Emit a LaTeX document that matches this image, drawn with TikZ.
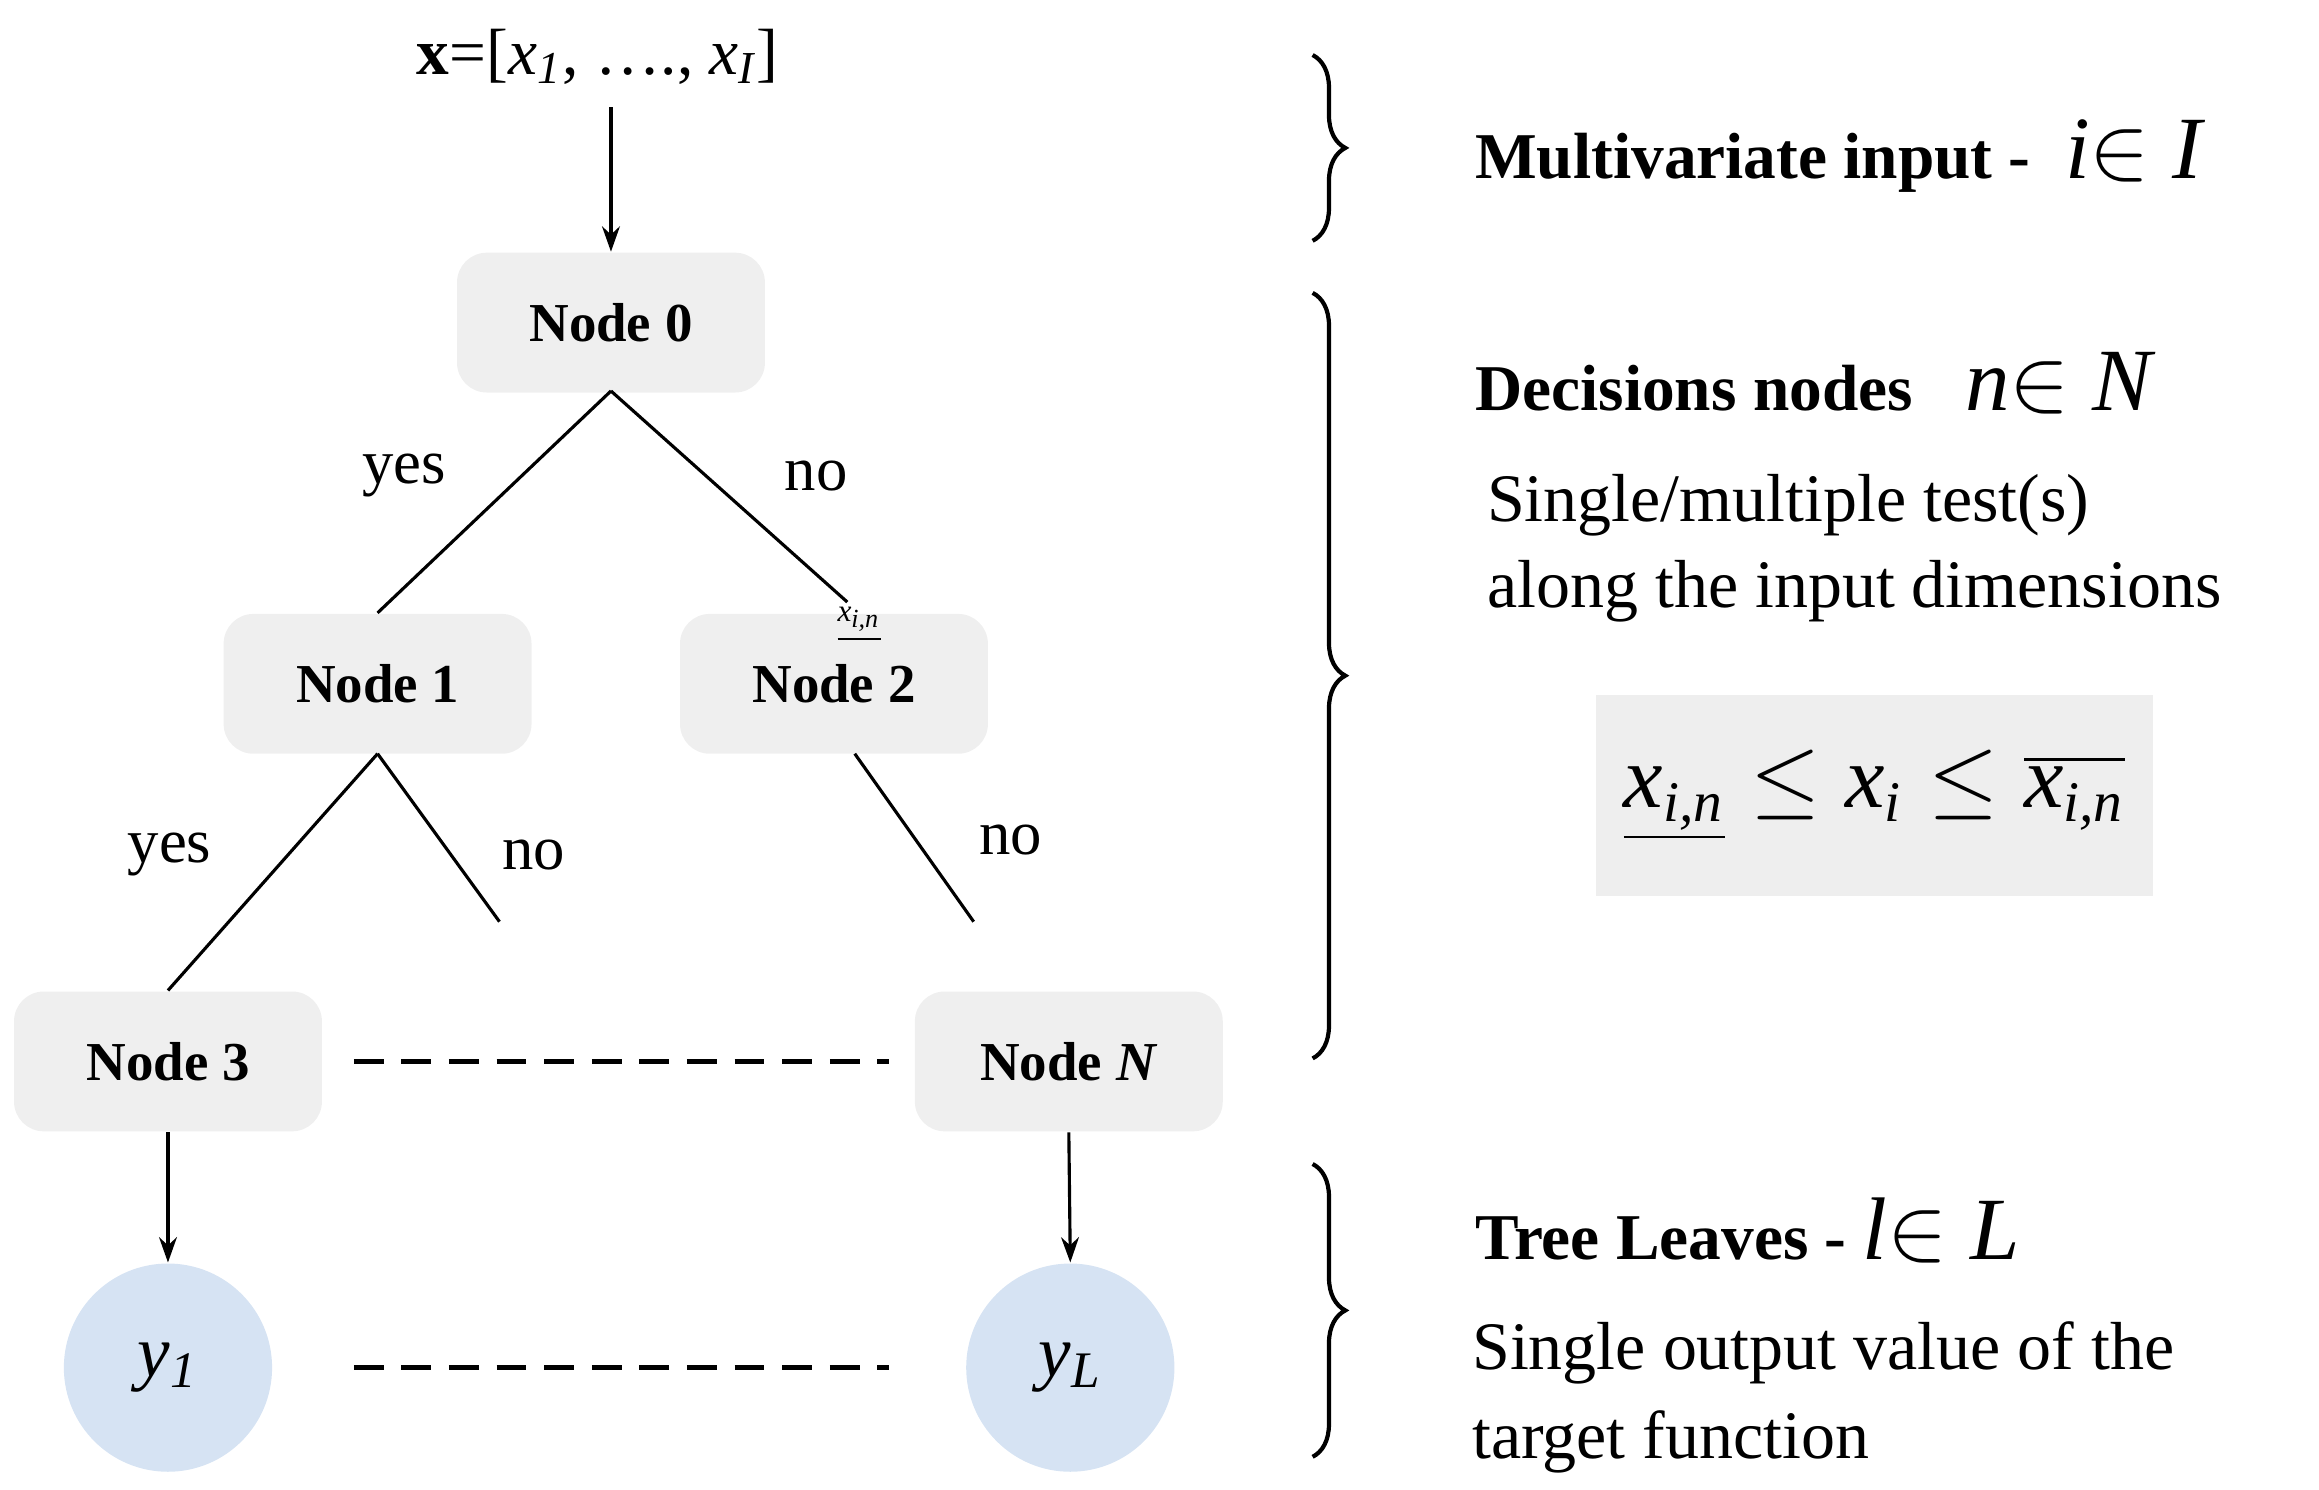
\documentclass[tikz,border=0pt]{standalone}
\usepackage{fontspec}
\setmainfont{Liberation Serif}
\usetikzlibrary{decorations.pathreplacing,arrows.meta,calc}
\definecolor{ngray}{HTML}{EFEFEF}
\definecolor{lblue}{HTML}{D6E3F3}
\definecolor{bgray}{HTML}{EEEEEE}
\newcommand{\xit}[1]{\textit{#1}}
\begin{document}
\begin{tikzpicture}[x=0.01cm,y=-0.01cm,
  tn/.style={fill=ngray,rounded corners=0.2cm,minimum width=2.07cm,minimum height=0.94cm,font=\fontsize{10.5}{12}\selectfont\bfseries},
  leaf/.style={circle,fill=lblue,minimum size=1.4cm,font=\fontsize{14}{16}\selectfont},
  lab/.style={font=\fontsize{12}{14}\selectfont},
  body/.style={font=\fontsize{13}{15}\selectfont,anchor=west},
  head/.style={font=\fontsize{12.5}{15}\selectfont\bfseries,anchor=west},
  arr/.style={-{Stealth[length=0.17cm,width=0.12cm]},line width=0.6pt},
  ln/.style={line width=0.6pt},
  dsh/.style={line width=1pt,dash pattern=on 0.2cm off 0.12cm},
  br/.style={decorate,decoration={brace,amplitude=0.22cm},line width=0.8pt}]
\useasboundingbox (0,0) rectangle (1560,1002);
\node[font=\fontsize{12.5}{15}\selectfont] (x) at (402,38) {\textbf{x}=[\xit{x}$_{\mathit{1}}$, …., \xit{x}$_{\mathit{I}}$]};
\node[tn] (n0) at (411,217) {Node 0};
\node[tn] (n1) at (254,460) {Node 1};
\node[tn] (n2) at (561,460) {Node 2};
\node[tn] (n3) at (113,714) {Node 3};
\node[tn] (nN) at (719,714) {Node \textit{N}};
\node[leaf] (y1) at (113,920) {\xit{y}$_{\mathit{1}}$};
\node[leaf] (yL) at (720,920) {\xit{y}$_{\mathit{L}}$};
\coordinate (xa) at (411,72);
\draw[arr] (xa) -- (n0.north);
\coordinate (t0) at (411,263);
\coordinate (e2) at (570,405);
\coordinate (t1) at (254,507);
\coordinate (e1) at (336,620);
\coordinate (t2) at (575,507);
\coordinate (e3) at (655,620);
\draw[ln] (t0) -- (n1.north);
\draw[ln] (t0) -- (e2);
\draw[ln] (t1) -- (n3.north);
\draw[ln] (t1) -- (e1);
\draw[ln] (t2) -- (e3);
\node[lab] (l1) at (272,320) {yes};
\node[lab] (l2) at (549,320) {no};
\node[lab] (l3) at (114,575) {yes};
\node[lab] (l4) at (359,575) {no};
\node[lab] (l5) at (680,565) {no};
\node[font=\fontsize{6}{7}\selectfont] (xin) at (578,420) {$\underline{\mbox{\xit{x}}_{\mbox{\tiny\xit{i,n}}}}$};
\coordinate (d1) at (238,714);
\coordinate (d2) at (598,714);
\coordinate (d3) at (238,920);
\coordinate (d4) at (598,920);
\draw[dsh] (d1) -- (d2);
\draw[dsh] (d3) -- (d4);
\draw[arr] (n3.south) -- (y1.north);
\draw[arr] (nN.south) -- (yL.north);
\draw[br] (883,37) -- (883,162);
\draw[br] (883,197) -- (883,712);
\draw[br] (883,783) -- (883,980);
\node[head] (h1) at (980,105) {Multivariate input -\; {\fontsize{17}{18}\selectfont\mdseries\textit{i}$\in$ \textit{I}}};
\node[head] (h2) at (980,258) {Decisions nodes\;\; {\fontsize{17}{18}\selectfont\mdseries\textit{n}$\in$ \textit{N}}};
\node[body] (b1) at (988,340) {Single/multiple test(s)};
\node[body] (b2) at (988,398) {along the input dimensions};
\node[fill=bgray,minimum width=3.74cm,minimum height=1.35cm,font=\fontsize{17}{19}\selectfont] (f) at (1261,535)
  {$\underline{\mbox{\xit{x}}_{\mbox{\fontsize{11}{12}\selectfont\xit{i,n}}}} \leq \mbox{\xit{x}}_{\mbox{\fontsize{11}{12}\selectfont\xit{i}}} \leq \overline{\mbox{\xit{x}}_{\mbox{\fontsize{11}{12}\selectfont\xit{i,n}}}}$};
\node[head] (h3) at (980,828) {Tree Leaves - {\fontsize{17}{18}\selectfont\mdseries\textit{l}$\in$ \textit{L}}};
\node[body] (b3) at (978,910) {Single output value of the};
\node[body] (b4) at (978,970) {target function};
\end{tikzpicture}
\end{document}
